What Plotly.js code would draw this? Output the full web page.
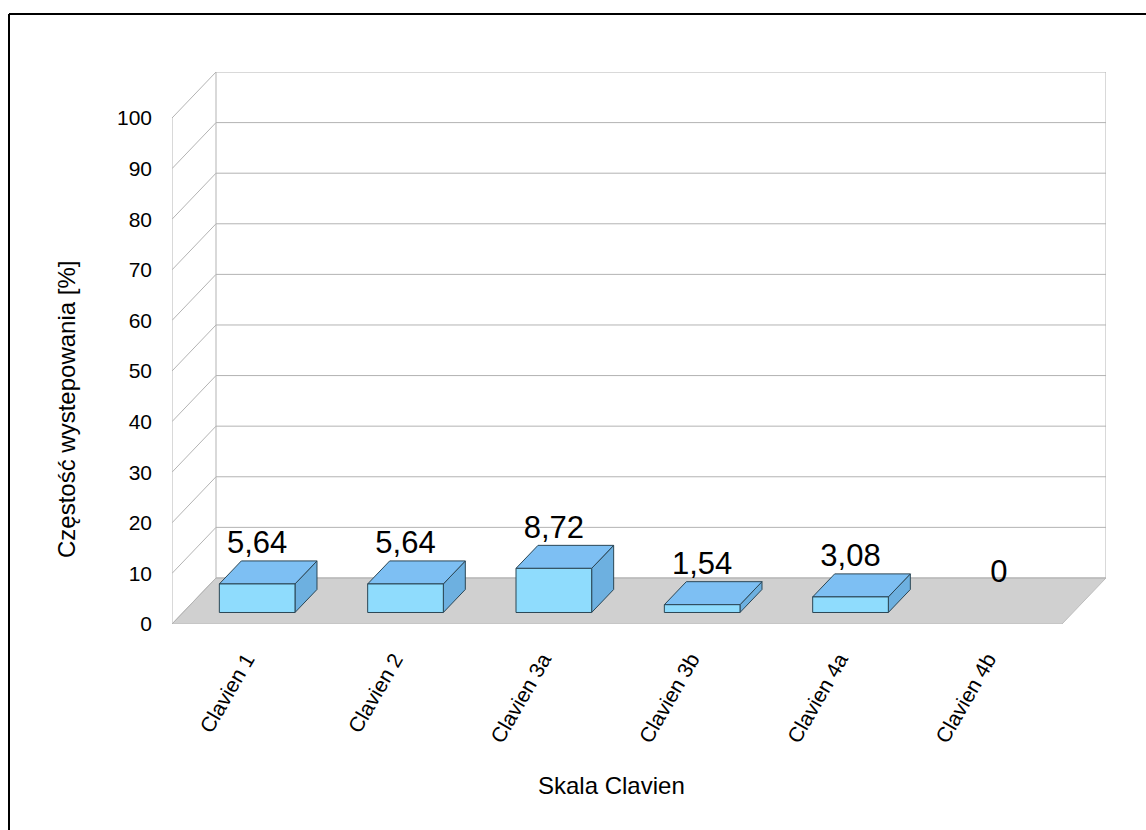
<!DOCTYPE html>
<html><head><meta charset="utf-8">
<script src="https://cdn.plot.ly/plotly-3.0.1.min.js"></script>
<style>html,body{margin:0;padding:0;background:#fff}#chart{width:1146px;height:830px}</style>
</head><body><div id="chart"></div>
<script>
// ---- data ----
const categories = ['Clavien 1', 'Clavien 2', 'Clavien 3a', 'Clavien 3b', 'Clavien 4a', 'Clavien 4b'];
const values = [5.64, 5.64, 8.72, 1.54, 3.08, 0];
const yTicks = [0, 10, 20, 30, 40, 50, 60, 70, 80, 90, 100];
const yTitle = 'Częstość wystepowania [%]';
const xTitle = 'Skala Clavien';

// ---- pseudo-3D geometry (oblique projection) ----
const N = categories.length;
const DX = 0.2966;   // depth shift in category units
const DY = 9.1;      // depth shift in value units
const BW = 0.51;     // bar width (category fraction)
const D0 = 0.25, D1 = 0.75; // bar depth span
const YMAX = 100;

const FONT = 'Liberation Sans, Arial, sans-serif';
const GRID = '#b3b3b3';
const traces = [];

// floor
traces.push({x: [0, N, N + DX, DX, 0], y: [0, 0, DY, DY, 0], mode: 'lines', fill: 'toself',
  fillcolor: '#d0d0d0', line: {color: '#bdbdbd', width: 1}, hoverinfo: 'skip', cliponaxis: false});

// back wall gridlines + left wall diagonals
const gx = [], gy = [];
yTicks.forEach(t => {
  gx.push(DX, N + DX, null); gy.push(t + DY, t + DY, null);
  gx.push(0, DX, null); gy.push(t, t + DY, null);
});
gx.push(DX, DX, null, N + DX, N + DX, null, 0, 0, null);
gy.push(DY, YMAX + DY, null, DY, YMAX + DY, null, 0, YMAX, null);
traces.push({x: gx, y: gy, mode: 'lines', line: {color: GRID, width: 1}, hoverinfo: 'skip', cliponaxis: false});

// bars
const EDGE = {color: '#2b4655', width: 1};
function face(xs, ys, col) {
  traces.push({x: xs, y: ys, mode: 'lines', fill: 'toself', fillcolor: col, line: EDGE, hoverinfo: 'skip', cliponaxis: false});
}
values.forEach((v, i) => {
  if (v <= 0) return;
  const xl = i + 0.5 - BW / 2, xr = i + 0.5 + BW / 2;
  const a = D0 * DX, b = D1 * DX, ya = D0 * DY, yb = D1 * DY;
  // side
  face([xr + a, xr + b, xr + b, xr + a, xr + a], [ya, yb, v + yb, v + ya, ya], '#6db0e0');
  // top
  face([xl + a, xr + a, xr + b, xl + b, xl + a], [v + ya, v + ya, v + yb, v + yb, v + ya], '#7dbff3');
  // front
  face([xl + a, xr + a, xr + a, xl + a, xl + a], [ya, ya, v + ya, v + ya, ya], '#8fdcfd');
});

// data labels
traces.push({
  x: values.map((v, i) => i + 0.5 + D0 * DX),
  y: values.map(v => v + D1 * DY),
  text: values.map(v => v === 0 ? '0' : v.toFixed(2).replace('.', ',')),
  mode: 'text', textposition: 'top center', cliponaxis: false, hoverinfo: 'skip',
  textfont: {family: FONT, size: 31, color: '#000'}
});

// helpers for paper positioning
const L = 172, T = 72, W = 934, H = 552;
const px = X => (X - L) / W, py = Y => (T + H - Y) / H;

const layout = {
  width: 1146, height: 830,
  margin: {l: L, r: 1146 - L - W, t: T, b: 830 - T - H},
  paper_bgcolor: '#fff', plot_bgcolor: '#fff',
  showlegend: false,
  font: {family: FONT, color: '#000'},
  xaxis: {range: [0, N + DX], showgrid: false, zeroline: false, showline: false,
    tickvals: categories.map((c, i) => i + 0.5), ticktext: categories,
    tickangle: -60, ticks: '', ticklabelstandoff: 18, tickfont: {family: FONT, size: 21, color: '#000'}},
  yaxis: {range: [0, YMAX + DY], showgrid: false, zeroline: false, showline: false,
    tickvals: yTicks, ticktext: yTicks.map(String), ticks: '', ticklabelstandoff: 19,
    tickfont: {family: FONT, size: 21, color: '#000'}},
  annotations: [
    {text: xTitle, xref: 'paper', yref: 'paper', x: px(611), y: py(785), xanchor: 'center', yanchor: 'middle',
      showarrow: false, font: {family: FONT, size: 24, color: '#000'}},
    {text: yTitle, xref: 'paper', yref: 'paper', x: px(66), y: py(410), xanchor: 'center', yanchor: 'middle',
      textangle: -90, showarrow: false, font: {family: FONT, size: 24, color: '#000'}}
  ],
  shapes: [
    {type: 'line', xref: 'paper', yref: 'paper', x0: px(9), x1: px(1160), y0: py(14), y1: py(14), line: {color: '#000', width: 2}},
    {type: 'line', xref: 'paper', yref: 'paper', x0: px(9), x1: px(9), y0: py(14), y1: py(850), line: {color: '#000', width: 2}}
  ]
};

Plotly.newPlot('chart', traces, layout, {displayModeBar: false, staticPlot: true});
</script>
</body></html>
